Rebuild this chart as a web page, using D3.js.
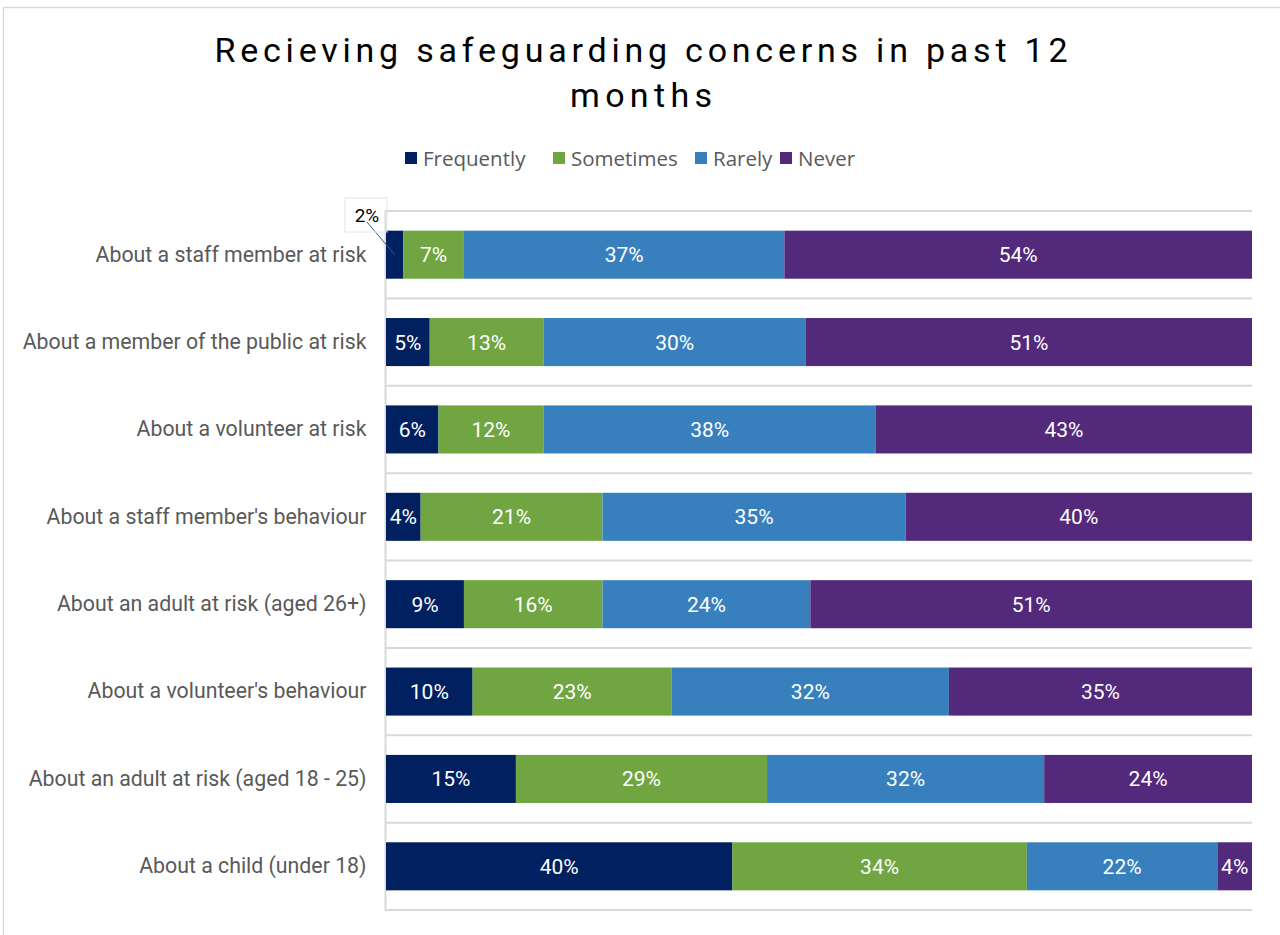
<!DOCTYPE html>
<html>
<head>
<meta charset="utf-8">
<script src="https://cdn.jsdelivr.net/npm/d3@7"></script>
<style>
  html, body { margin: 0; padding: 0; background: #fff; }
  svg { display: block; }
</style>
</head>
<body>
<svg id="chart" width="1280" height="935"></svg>
<script>
// Survey responses: share of organisations receiving each kind of safeguarding concern
const categories = [
  "About a staff member at risk",
  "About a member of the public at risk",
  "About a volunteer at risk",
  "About a staff member's behaviour",
  "About an adult at risk (aged 26+)",
  "About a volunteer's behaviour",
  "About an adult at risk (aged 18 - 25)",
  "About a child (under 18)"
];
const seriesNames = ["Frequently", "Sometimes", "Rarely", "Never"];
const frequently = [2, 5, 6, 4, 9, 10, 15, 40];
const sometimes  = [7, 13, 12, 21, 16, 23, 29, 34];
const rarely     = [37, 30, 38, 35, 24, 32, 32, 22];
const never      = [54, 51, 43, 40, 51, 35, 24, 4];
const colors = ["#002060", "#70a542", "#3880bd", "#52297b"];

const titleLines = ["Recieving safeguarding concerns in past 12", "months"];

const svg = d3.select("#chart");

// outer chart frame
svg.append("rect")
  .attr("x", 3.5).attr("y", 7.5)
  .attr("width", 1290).attr("height", 940)
  .attr("fill", "#fff").attr("stroke", "#d9d9d9").attr("stroke-width", 1.5);

// title
const titleWidths = [853, 142];
svg.append("g").selectAll("text")
  .data(titleLines)
  .join("text")
  .attr("x", 641)
  .attr("y", (d, i) => 62 + i * 45)
  .attr("text-anchor", "middle")
  .attr("font-family", "Roboto, sans-serif")
  .attr("font-size", 34)
  .attr("fill", "#000")
  .attr("textLength", (d, i) => titleWidths[i])
  .attr("lengthAdjust", "spacing")
  .text(d => d);

// legend
const legendX = [405, 553, 695, 780];
const legend = svg.append("g").selectAll("g")
  .data(seriesNames)
  .join("g")
  .attr("transform", (d, i) => `translate(${legendX[i]},152)`);
legend.append("rect")
  .attr("width", 12).attr("height", 12)
  .attr("fill", (d, i) => colors[i]);
legend.append("text")
  .attr("x", 18).attr("y", 14)
  .attr("font-family", "'Open Sans', sans-serif")
  .attr("font-size", 20.5)
  .attr("fill", "#595959")
  .text(d => d);

// stacked (100%) data
const rows = categories.map((c, i) => {
  const vals = [frequently[i], sometimes[i], rarely[i], never[i]];
  const total = d3.sum(vals);
  let acc = 0;
  return vals.map((v, k) => {
    const seg = { cat: c, key: seriesNames[k], k, value: v, x0: acc / total, x1: (acc + v) / total };
    acc += v;
    return seg;
  });
});

const x = d3.scaleLinear().domain([0, 1]).range([386, 1252]);
const y = d3.scaleBand().domain(categories).range([211, 910]).paddingInner(0.45).paddingOuter(0.225);
const gap = (y.step() - y.bandwidth()) / 2;

// horizontal gridlines at category boundaries
const gridYs = categories.map(c => y(c) - gap).concat([y.range()[1]]);
svg.append("g").selectAll("line")
  .data(gridYs)
  .join("line")
  .attr("x1", 385).attr("x2", 1252)
  .attr("y1", d => d).attr("y2", d => d)
  .attr("stroke", "#d9d9d9").attr("stroke-width", 2);

// category axis
const yAxis = svg.append("g")
  .attr("transform", "translate(385.5,0)")
  .call(d3.axisLeft(y).tickSize(0).tickPadding(19));
yAxis.select(".domain").attr("stroke", "#d9d9d9").attr("stroke-width", 2)
  .attr("d", `M0,${y.range()[0]}V${y.range()[1]}`);
yAxis.selectAll("text")
  .attr("font-family", "Roboto, sans-serif")
  .attr("font-size", 21.3)
  .attr("fill", "#595959");

// bars
const segs = rows.flat();
svg.append("g").selectAll("rect")
  .data(segs)
  .join("rect")
  .attr("x", d => x(d.x0))
  .attr("width", d => x(d.x1) - x(d.x0))
  .attr("y", d => y(d.cat))
  .attr("height", y.bandwidth())
  .attr("fill", d => colors[d.k]);

// value labels inside segments
const inside = segs.filter(d => x(d.x1) - x(d.x0) >= 24);
const outside = segs.filter(d => x(d.x1) - x(d.x0) < 24);
svg.append("g").selectAll("text")
  .data(inside)
  .join("text")
  .attr("x", d => (x(d.x0) + x(d.x1)) / 2)
  .attr("y", d => y(d.cat) + y.bandwidth() / 2 + 7.5)
  .attr("text-anchor", "middle")
  .attr("font-family", "Roboto, sans-serif")
  .attr("font-size", 21)
  .attr("fill", "#fff")
  .text(d => d.value + "%");

// callout labels for narrow segments
const callout = svg.append("g").selectAll("g")
  .data(outside)
  .join("g");
callout.append("line")
  .attr("x1", d => x(d.x0) - 19)
  .attr("y1", 222)
  .attr("x2", d => (x(d.x0) + x(d.x1)) / 2)
  .attr("y2", d => y(d.cat) + y.bandwidth() / 2)
  .attr("stroke", "#2f5f8f").attr("stroke-width", 1);
callout.append("rect")
  .attr("x", d => x(d.x0) - 41)
  .attr("y", 198)
  .attr("width", 42).attr("height", 34)
  .attr("fill", "none")
  .attr("stroke", "#e6e6e6").attr("stroke-width", 1);
callout.append("text")
  .attr("x", d => x(d.x0) - 19)
  .attr("y", 222)
  .attr("text-anchor", "middle")
  .attr("font-family", "Roboto, sans-serif")
  .attr("font-size", 19)
  .attr("fill", "#000")
  .text(d => d.value + "%");
</script>
</body>
</html>
